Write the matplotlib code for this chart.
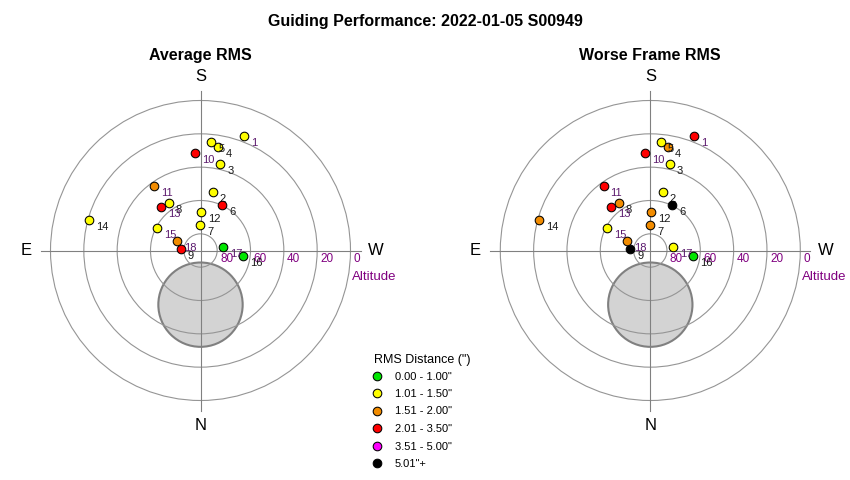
import numpy as np
import matplotlib.pyplot as plt
from matplotlib.patches import Circle

plt.rcParams['font.family'] = ['Liberation Sans', 'DejaVu Sans']

# frame positions (azimuth from N through E, altitude in degrees)
frames = list(range(1, 19))
azimuth = [200.9, 192.1, 192.9, 189.8, 185.7, 205.7, 179.6, 146.0, 95.3,
           176.8, 144.2, 181.2, 138.0, 105.2, 117.2, 276.9, 262.0, 111.6]
altitude = [16.4, 54.3, 36.9, 27.2, 24.6, 59.9, 74.7, 55.9, 78.0,
            31.6, 42.0, 67.1, 54.9, 20.9, 60.9, 64.1, 76.2, 75.0]

# rms class of each frame (index into bins below)
avg_class = [1, 1, 1, 1, 1, 3, 1, 1, 3, 3, 2, 1, 3, 1, 1, 0, 0, 2]
worst_class = [3, 1, 1, 2, 1, 5, 2, 2, 5, 3, 3, 2, 3, 2, 1, 0, 1, 2]
label_purple = [1, 10, 11, 13, 15, 17, 18]

bin_labels = ['0.00 - 1.00"', '1.01 - 1.50"', '1.51 - 2.00"',
              '2.01 - 3.50"', '3.51 - 5.00"', '5.01"+']
bin_colors = ['#00e600', '#ffff00', '#f28c00', '#ff0000', '#ff00ff', '#000000']

alt_rings = [80, 60, 40, 20, 0]
pole_alt = 57.5
pole_radius = 25.3

PURPLE = '#800080'


def to_xy(az, alt):
    zd = 90 - np.asarray(alt)
    a = np.radians(az)
    return -zd * np.sin(a), -zd * np.cos(a)


def draw_panel(ax, classes, title):
    ax.set_xlim(-108, 108)
    ax.set_ylim(-108, 108)
    ax.set_aspect('equal')
    ax.axis('off')

    # pole / flip zone disk
    ax.add_patch(Circle((0, -(90 - pole_alt)), pole_radius, facecolor='#d3d3d3',
                        edgecolor='#808080', lw=1.5, zorder=1))
    for a in alt_rings:
        ax.add_patch(Circle((0, 0), 90 - a, fill=False, edgecolor='#959595',
                            lw=0.8, zorder=2))
        ax.text(90 - a + 1.8, -6.7, str(a), color=PURPLE, fontsize=8.5,
                ha='left', va='baseline', zorder=2)
    ax.plot([-96, 96], [0, 0], color='#808080', lw=0.8, zorder=2)
    ax.plot([0, 0], [-96, 96], color='#808080', lw=0.8, zorder=2)
    ax.text(91, -17.7, 'Altitude', color=PURPLE, fontsize=9.5, ha='left', va='baseline')

    ax.text(0, 101.7, 'S', fontsize=12, ha='center', va='baseline')
    ax.text(0, -107.7, 'N', fontsize=12, ha='center', va='baseline')
    ax.text(-104.8, -2.7, 'E', fontsize=12, ha='center', va='baseline')
    ax.text(105, -2.7, 'W', fontsize=12, ha='center', va='baseline')
    ax.text(0, 114.3, title, fontsize=11.5, fontweight='bold', ha='center', va='baseline')

    xs, ys = to_xy(azimuth, altitude)
    for i, f in enumerate(frames):
        ax.plot(xs[i], ys[i], 'o', ms=6.2, mfc=bin_colors[classes[i]], mec='black',
                mew=0.75, zorder=10 + 2 * i)
        ax.annotate(str(f), (xs[i], ys[i]), xytext=(5, -5), textcoords='offset points',
                    ha='left', va='center', fontsize=8, zorder=11 + 2 * i,
                    color='#5c1a6e' if f in label_purple else '#1a1a1a')


W, H = 850, 480
fig = plt.figure(figsize=(8.5, 4.8), dpi=100)
fig.text(0.5, 1 - 26 / H, 'Guiding Performance: 2022-01-05 S00949',
         fontsize=11.5, fontweight='bold', ha='center', va='baseline')

ax1 = fig.add_axes([(200.5 - 180) / W, (480 - 250.5 - 180) / H, 360 / W, 360 / H])
ax2 = fig.add_axes([(650.3 - 180) / W, (480 - 250.5 - 180) / H, 360 / W, 360 / H])
draw_panel(ax1, avg_class, 'Average RMS')
draw_panel(ax2, worst_class, 'Worse Frame RMS')

# legend
lg = fig.add_axes([0, 0, 1, 1], zorder=-1)
lg.set_xlim(0, W)
lg.set_ylim(H, 0)
lg.axis('off')
lg.text(374, 363.3, 'RMS Distance (")', fontsize=9, ha='left', va='baseline')
for i, (lab, c) in enumerate(zip(bin_labels, bin_colors)):
    y = 375.5 + 17.5 * i
    lg.plot(377.5, y, 'o', ms=6.2, mfc=c, mec='black', mew=0.75)
    lg.text(395, y + 4, lab, fontsize=8, ha='left', va='baseline')

fig.savefig('out.png', dpi=100, facecolor='white')
